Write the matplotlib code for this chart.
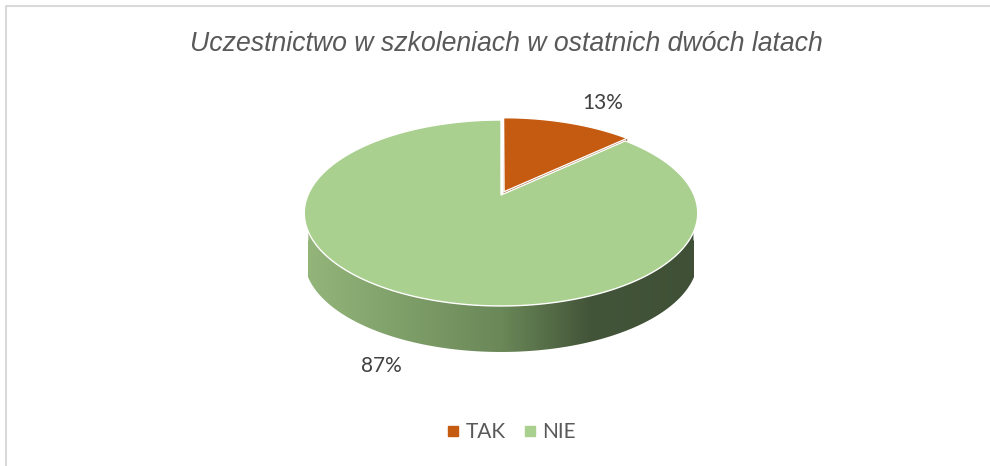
import numpy as np
import matplotlib.pyplot as plt
from matplotlib.patches import Polygon
from matplotlib.lines import Line2D
from matplotlib.colors import LinearSegmentedColormap

# data
categories = ['TAK', 'NIE']
values = [13, 87]
top_colors = ['#C55A11', '#A9D08E']
wall_colors = ['#8c3e0b', '#6b8a57']
explode = [0.04, 0.0]
title = 'Uczestnictwo w szkoleniach w ostatnich dwóch latach'

fig = plt.figure(figsize=(9.9, 4.66), dpi=100)
ax = fig.add_axes([0, 0, 1, 1])
ax.set_xlim(0, 990)
ax.set_ylim(466, 0)
ax.axis('off')

# chart frame (top and left only visible)
ax.plot([6, 6, 990], [466, 6, 6], color='#d9d9d9', lw=1.5, solid_capstyle='butt')

ax.text(506, 44, title, ha='center', va='center', fontsize=19.2,
        style='italic', color='#595959', family='Liberation Sans')

# 3D pie geometry (pixel space, simple perspective)
cx, cy = 501, 195
rx, ry = 193, 89.5
persp = 0.1935
depth = 46


def proj(u, v):
    d = 1 + persp * v
    return cx + rx * u / d, cy - ry * v / d


fracs = np.array(values) / sum(values)
start = 90.0
side_cmap = LinearSegmentedColormap.from_list(
    'side', [(0.0, '#93b57a'), (0.5, '#6a8858'), (0.73, '#435539'), (1.0, '#3f5036')])

for i, f in enumerate(fracs):
    a0 = np.radians(start)
    a1 = np.radians(start - 360 * f)
    start -= 360 * f
    mid = (a0 + a1) / 2
    ou, ov = explode[i] * np.cos(mid), explode[i] * np.sin(mid)

    th = np.linspace(a0, a1, 400)
    top = [proj(ou + np.cos(t), ov + np.sin(t)) for t in th]
    ctr = proj(ou, ov)

    # radial walls
    for a in (a0, a1):
        p = proj(ou + np.cos(a), ov + np.sin(a))
        quad = [ctr, p, (p[0], p[1] + depth), (ctr[0], ctr[1] + depth)]
        ax.add_patch(Polygon(quad, closed=True, fc=wall_colors[i], ec='none', zorder=2 + 2 * i))

    # outer wall, front part only
    front = np.sin(th) <= 0.02
    if front.any():
        pts = np.array(top)[front]
        wall = np.vstack([pts, (pts + [0, depth])[::-1]])
        poly = Polygon(wall, closed=True, fc='none', ec='none', zorder=2 + 2 * i)
        ax.add_patch(poly)
        grad = np.linspace(0, 1, 256).reshape(1, -1)
        im = ax.imshow(grad, cmap=side_cmap, aspect='auto',
                       extent=[cx - rx, cx + rx, cy + ry * 2 + depth, cy - 20],
                       zorder=2 + 2 * i)
        im.set_clip_path(poly)

    ax.add_patch(Polygon([ctr] + top, closed=True, fc=top_colors[i], ec='white',
                         lw=1.0, zorder=3 + 2 * i))

# reset limits after imshow
ax.set_xlim(0, 990)
ax.set_ylim(466, 0)

label_pos = [(603, 103), (381, 366)]
for i, v in enumerate(values):
    ax.text(*label_pos[i], f'{v}%', ha='center', va='center', fontsize=15,
            color='#404040', family='Lato')

handles = [Line2D([], [], marker='s', linestyle='', markersize=7, color=c)
           for c in top_colors]
leg = fig.legend(handles, categories, loc='center', bbox_to_anchor=(0.517, 0.072),
                 ncol=2, frameon=False, handlelength=0.5, handletextpad=0.35,
                 columnspacing=0.9, prop={'family': 'Lato', 'size': 15})
for t in leg.get_texts():
    t.set_color('#595959')

plt.savefig('out.png', dpi=100)
